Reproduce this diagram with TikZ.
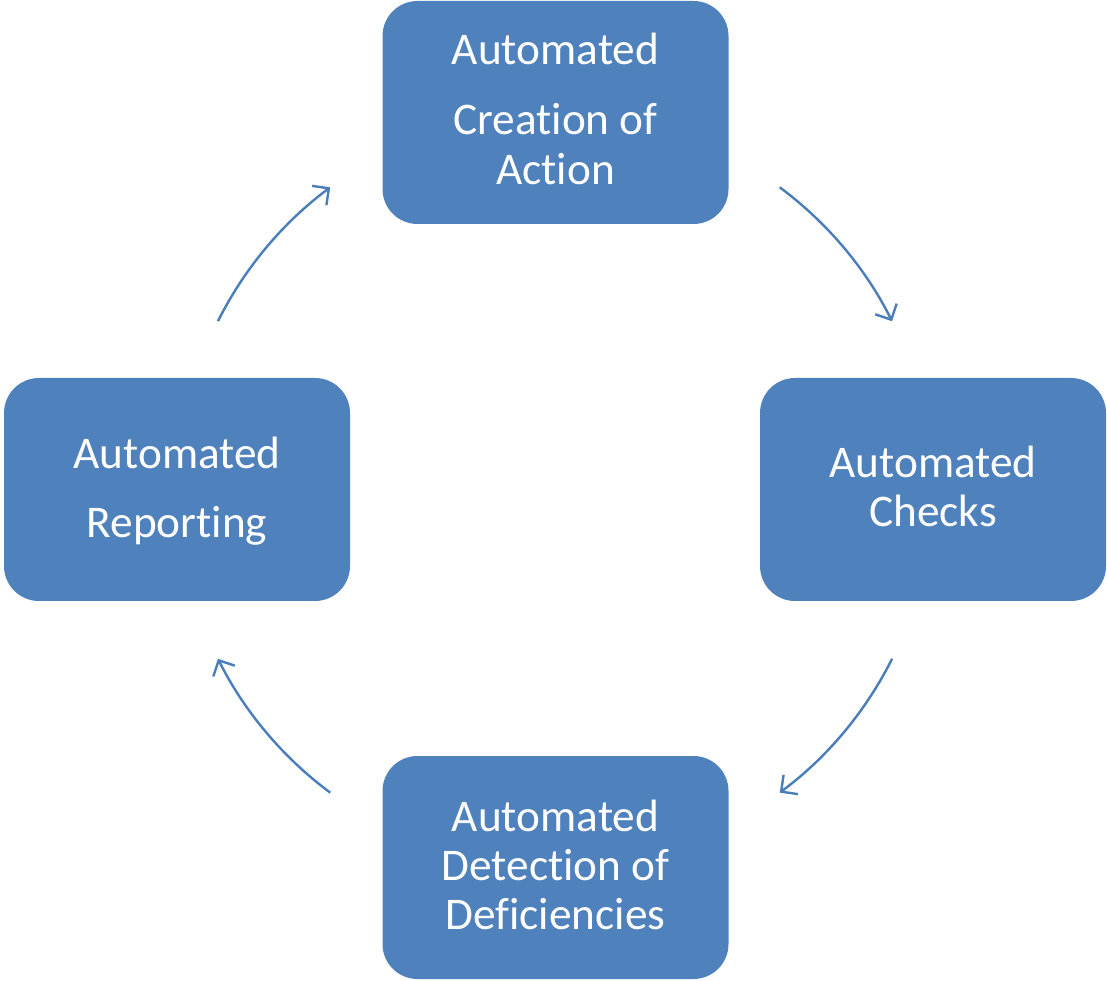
\documentclass[tikz,border=0pt]{standalone}
\usepackage{fontspec}
\setmainfont{Carlito}[Ligatures={NoCommon,NoRequired,NoContextual}]
\usetikzlibrary{arrows.meta}
\definecolor{boxblue}{HTML}{4F81BD}
\definecolor{arrblue}{HTML}{4A7EBB}
\tikzset{
  stagebox/.style={fill=boxblue, draw=none, rounded corners=35pt, minimum width=346pt, minimum height=223pt, inner sep=0pt},
  stagetext/.style={anchor=base, text=white, inner sep=0pt, font=\fontsize{45.3}{49.5}\selectfont},
  cyclearrow/.style={draw=arrblue, line width=2.4pt, -{Straight Barb[length=12pt,width=24pt,line width=2.4pt]}}
}
\begin{document}
\begin{tikzpicture}[x=1pt,y=1pt]
\useasboundingbox (0,0) rectangle (1107,980);
\coordinate (c) at (555,490);
% boxes
\node[stagebox] (top) at (555.5,867.5) {};
\node[stagebox] (right) at (933,490.5) {};
\node[stagebox] (bottom) at (555.5,112.5) {};
\node[stagebox] (left) at (177,490.5) {};
% texts
\node[stagetext] (top1) at (555.5,915) {Automated};
\node[stagetext] (top2) at (555.5,845) {Creation of};
\node[stagetext] (top3) at (555.5,795) {Action};
\node[stagetext] (right1) at (933,502) {Automated};
\node[stagetext] (right2) at (933,453) {Checks};
\node[stagetext] (bottom1) at (555.5,149) {Automated};
\node[stagetext] (bottom2) at (555.5,100) {Detection of};
\node[stagetext] (bottom3) at (555.5,51) {Deficiencies};
\node[stagetext] (left1) at (177,511) {Automated};
\node[stagetext] (left2) at (177,442) {Reporting};
% arrows
\draw[cyclearrow] ([shift={(53.4:377)}]c) arc[start angle=53.4, end angle=26.6, radius=377];
\draw[cyclearrow] ([shift={(-26.6:377)}]c) arc[start angle=-26.6, end angle=-53.4, radius=377];
\draw[cyclearrow] ([shift={(-126.6:377)}]c) arc[start angle=-126.6, end angle=-153.4, radius=377];
\draw[cyclearrow] ([shift={(153.4:377)}]c) arc[start angle=153.4, end angle=126.6, radius=377];
\end{tikzpicture}
\end{document}
